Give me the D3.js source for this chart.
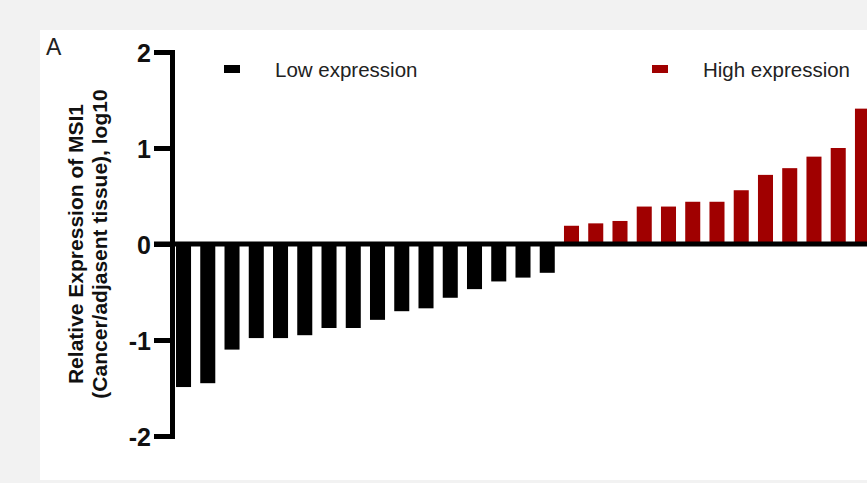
<!DOCTYPE html>
<html>
<head>
<meta charset="utf-8">
<script src="https://cdn.jsdelivr.net/npm/d3@7"></script>
<style>
    html, body { margin: 0; padding: 0; background: #f2f2f2; }
    svg { display: block; }
</style>
</head>
<body>
<svg width="867" height="483"></svg>
<script>
// the data - log10 ratios, sorted
var lowValues = [-1.49, -1.45, -1.10, -0.98, -0.98, -0.95, -0.875, -0.875, -0.79, -0.70, -0.67, -0.56, -0.47, -0.39, -0.35, -0.30];
var highValues = [0.19, 0.215, 0.24, 0.39, 0.39, 0.44, 0.44, 0.56, 0.72, 0.79, 0.91, 1.0, 1.41];
var yTicks = [-2, -1, 0, 1, 2];
var legendLabels = ["Low expression", "High expression"];
var legendColours = ["#000000", "#a00000"];

var svg = d3.select("svg");
var width = 867, height = 483;

var font = "'Liberation Sans', Arial, sans-serif";

// one list of bars, low group first
var bars = lowValues.map(function (v, i) { return { id: "L" + i, value: v, group: 0 }; })
    .concat(highValues.map(function (v, i) { return { id: "H" + i, value: v, group: 1 }; }));

//////////// PANEL ////////////

svg.append("rect")
    .attr("x", 40).attr("y", 30)
    .attr("width", width - 40).attr("height", 450)
    .attr("fill", "#ffffff");

svg.append("text")
    .attr("x", 46).attr("y", 55)
    .style("font-family", font)
    .style("font-size", "23px")
    .attr("fill", "#222")
    .text("A");

//////////// SCALES ////////////

var y = d3.scaleLinear().domain([-2, 2]).range([436, 52]);

var x = d3.scaleBand()
    .domain(bars.map(function (d) { return d.id; }))
    .range([171.4, 874.6])
    .paddingInner(0.38)
    .paddingOuter(0.19);

//////////// BARS ////////////

svg.append("g")
    .attr("class", "bars")
    .selectAll("rect")
    .data(bars)
    .enter().append("rect")
    .attr("x", function (d) { return x(d.id); })
    .attr("width", x.bandwidth())
    .attr("y", function (d) { return y(Math.max(0, d.value)); })
    .attr("height", function (d) { return Math.abs(y(d.value) - y(0)); })
    .attr("fill", function (d) { return legendColours[d.group]; });

// zero line across the whole plot
svg.append("line")
    .attr("x1", 154).attr("x2", width)
    .attr("y1", y(0)).attr("y2", y(0))
    .attr("stroke", "#000")
    .attr("stroke-width", 5);

//////////// AXIS ////////////

var yAxis = svg.append("g")
    .attr("transform", "translate(172,0)")
    .call(d3.axisLeft(y)
        .tickValues(yTicks)
        .tickFormat(function (d) { return String(d); })
        .tickSize(18)
        .tickPadding(3)
        .tickSizeOuter(0));

yAxis.select(".domain")
    .attr("stroke", "#000")
    .attr("stroke-width", 5)
    .attr("stroke-linecap", "square");
yAxis.selectAll(".tick line")
    .attr("stroke", "#000")
    .attr("stroke-width", 5);
yAxis.selectAll(".tick text")
    .attr("fill", "#111")
    .style("font-family", font)
    .style("font-weight", "bold")
    .style("font-size", "25px")
    .attr("dy", "0.36em");

// axis title, two lines
var title = svg.append("text")
    .attr("transform", "translate(0,244) rotate(-90)")
    .attr("text-anchor", "middle")
    .style("font-family", font)
    .style("font-weight", "bold")
    .style("font-size", "21px")
    .attr("fill", "#111");
title.append("tspan").attr("x", 0).attr("y", 83).text("Relative Expression of MSI1");
title.append("tspan").attr("x", 0).attr("y", 107).text("(Cancer/adjasent tissue), log10");

//////////// LEGEND ////////////

var legendX = [224, 652];

var legend = svg.append("g")
    .attr("class", "legend")
    .selectAll("g")
    .data(legendLabels)
    .enter().append("g")
    .attr("transform", function (d, i) { return "translate(" + legendX[i] + ",0)"; });

legend.append("rect")
    .attr("x", 0).attr("y", 65)
    .attr("width", 16).attr("height", 8)
    .attr("fill", function (d, i) { return legendColours[i]; });

legend.append("text")
    .attr("x", 51).attr("y", 77)
    .style("font-family", font)
    .style("font-size", "20.5px")
    .attr("fill", "#222")
    .text(function (d) { return d; });
</script>
</body>
</html>
